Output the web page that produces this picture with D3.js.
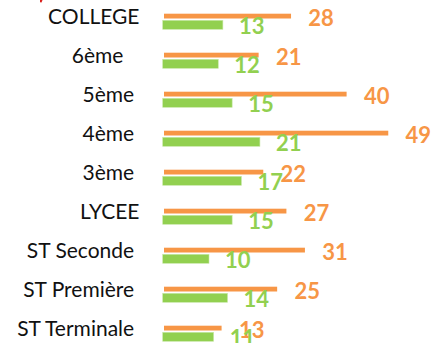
<!DOCTYPE html>
<html>
<head>
<meta charset="utf-8">
<script src="https://cdn.jsdelivr.net/npm/d3@7"></script>
<style>
  html, body { margin: 0; padding: 0; background: #fff; }
  svg { display: block; }
  .cat { white-space: pre; }
</style>
</head>
<body>
<svg id="chart" width="435" height="343"></svg>
<script>
// Category names as entered in the sheet (some carry trailing spaces)
const categories = ["COLLEGE", "6ème   ", "5ème ", "4ème ", "3ème ", "LYCEE", "ST Seconde ", "ST Première ", "ST Terminale "];
// First series (orange)
const seriesOrange = [28, 21, 40, 49, 22, 27, 31, 25, 13];
// Second series (green)
const seriesGreen = [13, 12, 15, 21, 17, 15, 10, 14, 11];

const ORANGE = "#F79646";
const GREEN = "#92D050";

const svg = d3.select("#chart");

const x = d3.scaleLinear().domain([0, 50]).range([162.7, 394.2]);
const y = d3.scaleBand().domain(categories).range([10.5, 10.5 + 39 * categories.length]).padding(0);

const rows = categories.map((c, i) => ({ cat: c, o: seriesOrange[i], g: seriesGreen[i] }));

// small red fragment in the upper left corner
svg.append("path")
  .attr("d", "M40,0 L42.5,0 L41.5,2.6 L40,2.2 Z")
  .attr("fill", "#d9201c");

const row = svg.selectAll("g.row").data(rows).join("g")
  .attr("class", "row")
  .attr("transform", d => `translate(0,${y(d.cat)})`);

// category labels
row.append("text")
  .attr("class", "cat")
  .attr("x", 139.5)
  .attr("y", 13.4)
  .attr("text-anchor", "end")
  .attr("font-family", "Lato, 'Open Sans', sans-serif")
  .attr("font-size", 21)
  .attr("fill", "#111")
  .text(d => d.cat);

// orange bars (thin, inset by their white outline)
row.append("rect")
  .attr("x", x(0) + 1.3)
  .attr("y", 3.2)
  .attr("width", d => Math.max(0, x(d.o) - x(0) - 2.6))
  .attr("height", 4.8)
  .attr("fill", ORANGE);

// green bars
row.append("rect")
  .attr("x", x(0))
  .attr("y", 9.8)
  .attr("width", d => x(d.g) - x(0))
  .attr("height", 9)
  .attr("fill", GREEN)
  .attr("stroke", "#c8e8a8")
  .attr("stroke-width", 0.6);

// value labels
row.append("text")
  .attr("x", d => x(d.o) + 16)
  .attr("y", 15.7)
  .attr("font-family", "Lato, 'Open Sans', sans-serif")
  .attr("font-weight", "bold")
  .attr("font-size", 22)
  .attr("fill", ORANGE)
  .text(d => d.o);

row.append("text")
  .attr("x", d => x(d.g) + 16)
  .attr("y", 23.5)
  .attr("font-family", "Lato, 'Open Sans', sans-serif")
  .attr("font-weight", "bold")
  .attr("font-size", 22)
  .attr("fill", GREEN)
  .text(d => d.g);
</script>
</body>
</html>
